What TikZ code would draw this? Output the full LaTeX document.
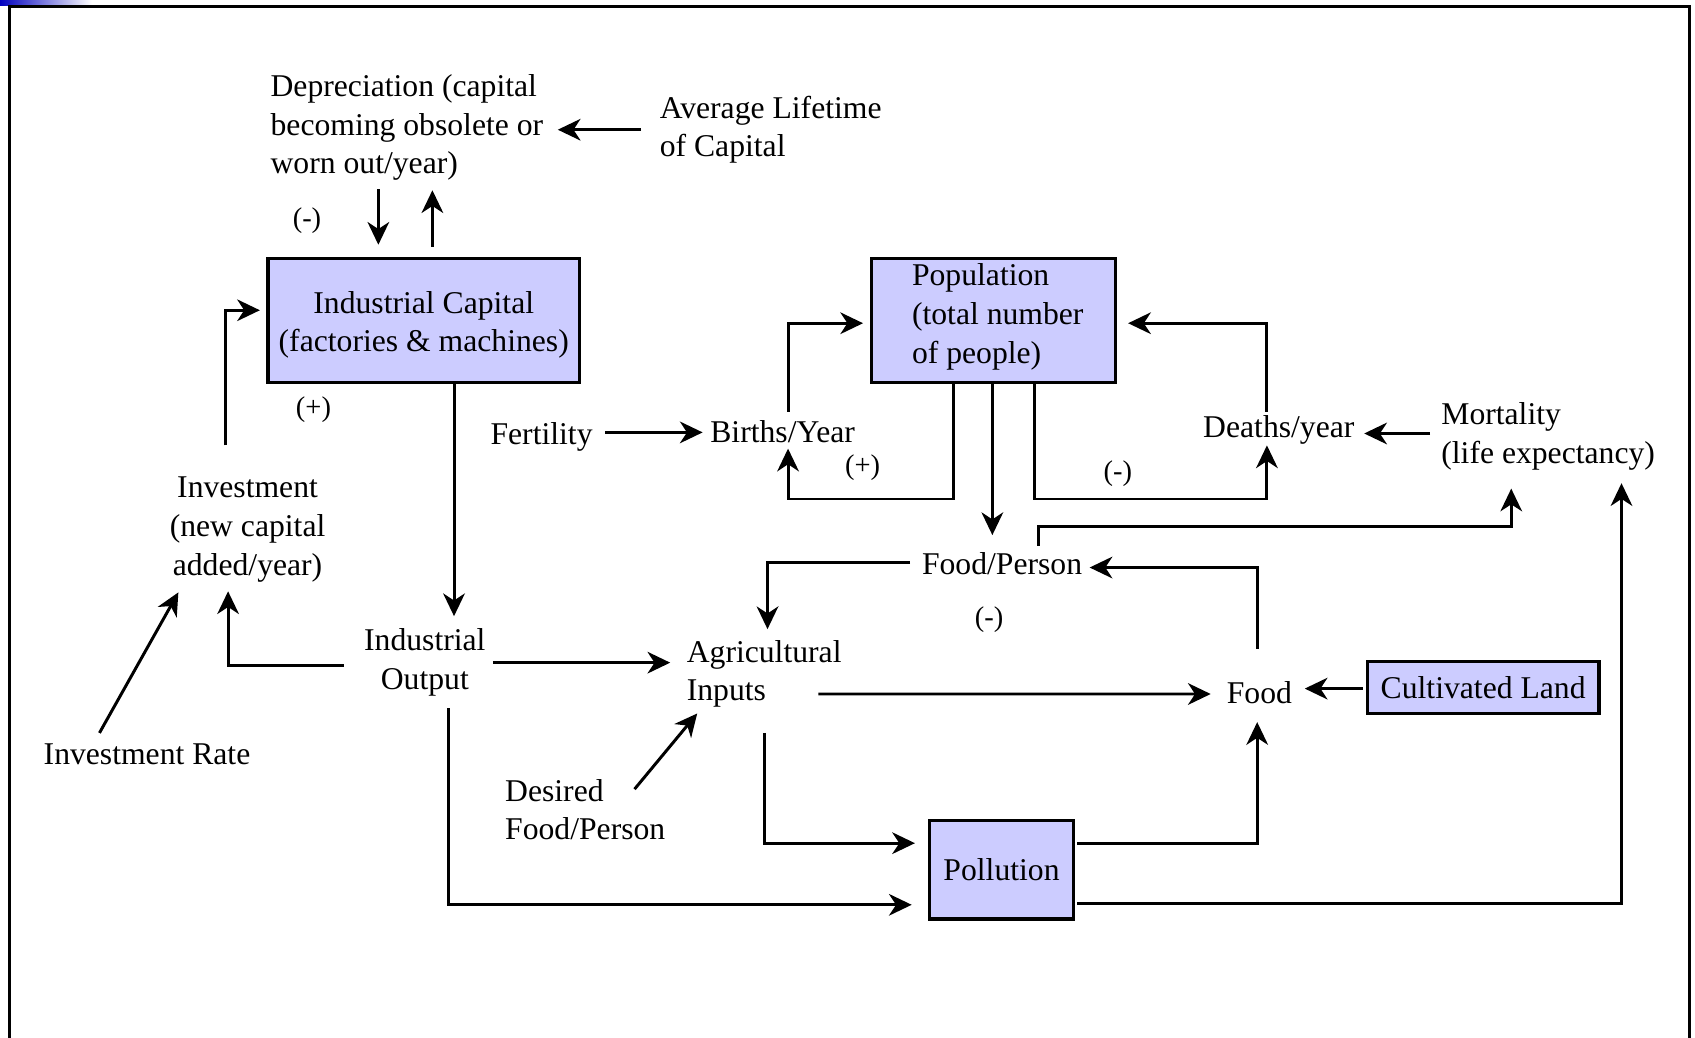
\documentclass[tikz,border=0pt]{standalone}
\usepackage{fontspec}
\setmainfont{Liberation Serif}
\usetikzlibrary{arrows.meta,calc}
\definecolor{boxfill}{RGB}{204,204,255}
\tikzset{
  x=0.02cm, y=-0.02cm,
  every node/.style={font=\fontsize{16.67}{20.4}\selectfont, inner sep=0pt},
  txt/.style={align=center},
  ltxt/.style={align=left, anchor=west},
  box/.style={draw, line width=0.065cm, fill=boxfill, align=center},
  arr/.style={line width=0.055cm, -{Stealth[length=0.42cm, width=0.4cm, inset=0.13cm]}},
  sign/.style={font=\fontsize{15}{18}\selectfont}
}
\begin{document}
\begin{tikzpicture}
\useasboundingbox (0,0) rectangle (1568,960);
\shade[left color=blue!75!black, right color=white] (0,0) rectangle (85,5);
\draw[line width=0.065cm] (9,962) -- (9,6) -- (1563,6) -- (1563,962);

% boxes
\node[box, minimum width=5.76cm, minimum height=2.3cm,
  label={[align=center, yshift=-0.08cm]center:Industrial Capital\\(factories \& machines)}] (cap) at (392,296.5) {};
\node[box, minimum width=4.52cm, minimum height=2.3cm,
  label={[align=left, yshift=0.07cm, xshift=0.08cm]center:Population\\(total number\\of people)}] (pop) at (919,296.5) {};
\node[box, minimum width=2.66cm, minimum height=1.82cm] (pol) at (926.5,804.5) {Pollution};
\node[box, minimum width=4.28cm, minimum height=0.96cm] (land) at (1372,636) {Cultivated Land};

% text nodes
\node[ltxt] (dep) at (250,118) {Depreciation (capital\\becoming obsolete or\\worn out/year)};
\node[ltxt] (avg) at (610,120) {Average Lifetime\\of Capital};
\node[txt] (inv) at (229,490) {Investment\\(new capital\\added/year)};
\node[txt] (invrate) at (136,698) {Investment Rate};
\node[txt] (io) at (393,613) {Industrial\\Output};
\node[ltxt] (agri) at (635,623.5) {Agricultural\\Inputs};
\node[ltxt] (desired) at (467,749) {Desired\\Food/Person};
\node[txt] (fert) at (501,404) {Fertility};
\node[txt] (births) at (724,399) {Births/Year};
\node[txt] (deaths) at (1183,398) {Deaths/year};
\node[ltxt] (mort) at (1333,403.5) {Mortality\\(life expectancy)};
\node[txt] (fpp) at (927,521) {Food/Person};
\node[txt] (food) at (1165,641) {Food};

\node[sign] (s1) at (284,204) {(-)};
\node[sign] (s2) at (290,379) {(+)};
\node[sign] (s3) at (798,433) {(+)};
\node[sign] (s4) at (1034,438) {(-)};
\node[sign] (s5) at (915,573) {(-)};

% connectors
\draw[arr] ($(avg.west)+(-17,0)$) -- ($(dep.west)+(266,2)$);
\draw[arr] ($(dep.west)+(100,57)$) -- ($(cap.north)+(-42,-11)$);
\draw[arr] ($(cap.north)+(8,-9)$) -- ($(dep.west)+(150,58)$);
\draw[arr] ($(cap.south)+(28,0)$) -- ($(io)+(27,-43)$);
\draw[arr] ($(io)+(-75,3)$) -| ($(inv)+(-18,57)$);
\draw[arr] ($(inv)+(-20,-78)$) |- ($(cap.west)+(-6,-9.5)$);
\draw[arr] ($(invrate)+(-44,-20)$) -- ($(inv)+(-64,58)$);
\draw[arr] ($(io)+(63,0)$) -- ($(agri.west)+(-15,-10.5)$);
\draw[arr] ($(desired.west)+(120,-19)$) -- ($(agri.west)+(10,36.5)$);
\draw[arr] ($(io)+(22,42)$) |- ($(pol.west)+(-15,32.5)$);
\draw[arr] ($(agri.west)+(72,54.5)$) |- ($(pol.west)+(-12,-24.5)$);
\draw[arr] ($(agri.west)+(122,18.5)$) -- ($(food)+(-45,1)$);
\draw[arr] ($(land.west)+(-3,1)$) -- ($(food)+(42,-4)$);
\draw[arr] ($(pol.east)+(2,-24.5)$) -| ($(food)+(-2,27)$);
\draw[arr] ($(pol.east)+(2,31.5)$) -| ($(mort.west)+(167,43.5)$);
\draw[arr] ($(food)+(-2,-41)$) |- ($(fpp)+(81,4)$);
\draw[arr] ($(fpp)+(-85,-1)$) -| ($(agri.west)+(75,-41.5)$);
\draw[arr] ($(fpp)+(34,-16)$) -- ++(0,-18) -| ($(mort.west)+(65,48.5)$);
\draw[arr] ($(pop.south)+(-1,0)$) -- ($(fpp)+(-9,-26)$);
\draw[arr] ($(fert)+(59,-4)$) -- ($(births)+(-74,1)$);
\draw[arr] ($(births)+(5,-18)$) |- ($(pop.west)+(-6,2.5)$);
\draw[arr] ($(pop.south)+(-37,0)$) -- ++(0,106) -| ($(births)+(5,16)$);
\draw[arr] ($(pop.south)+(38,0)$) -- ++(0,106) -| ($(deaths)+(-11,14)$);
\draw[arr] ($(deaths)+(-11,-17)$) |- ($(pop.east)+(10,2.5)$);
\draw[arr] ($(mort.west)+(-10,-2.5)$) -- ($(deaths)+(79,3)$);
\end{tikzpicture}
\end{document}
